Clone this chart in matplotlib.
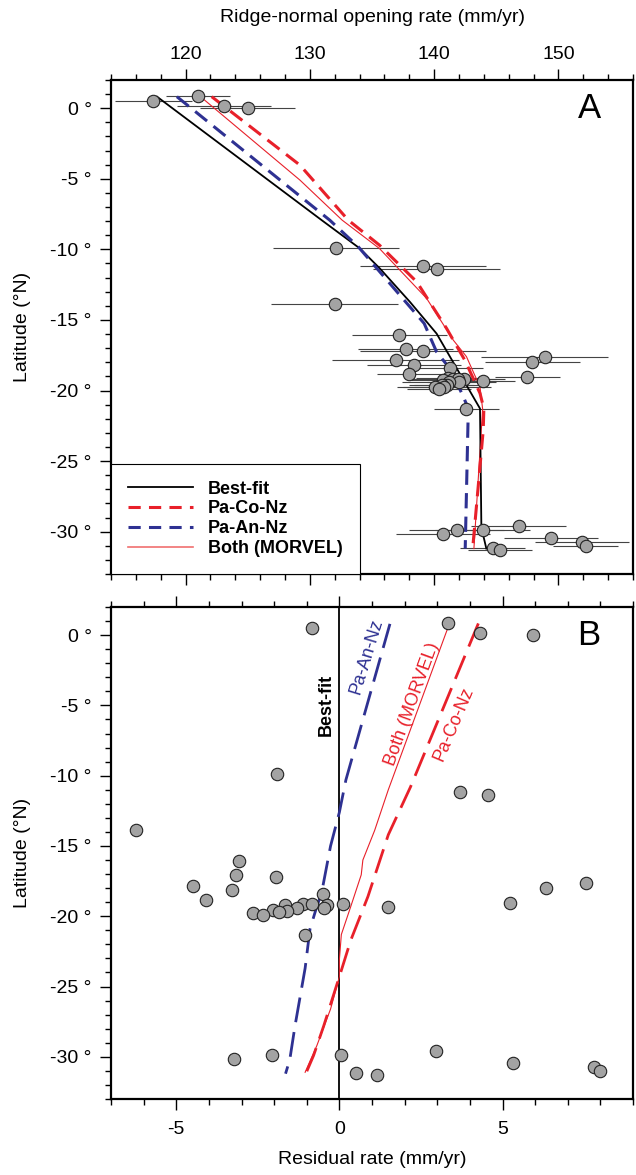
import matplotlib
matplotlib.use("Agg")
import matplotlib.pyplot as plt
from matplotlib.ticker import MultipleLocator, FuncFormatter
from matplotlib.lines import Line2D

plt.rcParams['font.family'] = ['Liberation Sans', 'DejaVu Sans']
plt.rcParams['axes.unicode_minus'] = False

RED = '#e8202a'
BLUE = '#2e3192'
PINK = '#f07070'

# observed spreading rates (same sites in both panels)
lat_obs = [0.5, 0.85, 0.14, 0.0, -9.9, -11.18, -11.39, -13.87, -16.04, -17.03,
           -17.19, -17.85, -17.62, -17.97, -18.16, -18.82, -18.44, -19.06, -19.16, -19.32,
           -19.10, -19.15, -19.17, -19.41, -19.22, -19.43, -19.60, -19.58, -19.72, -19.76,
           -19.88, -21.32, -30.16, -29.90, -29.90, -31.15, -31.27, -29.62, -30.47, -30.75,
           -31.00]
rate_obs = [117.4, 121.0, 123.1, 125.0, 132.1, 139.1, 140.2, 132.0, 137.2, 137.7,
            139.1, 136.9, 148.9, 147.9, 138.4, 138.0, 141.3, 147.5, 142.4, 143.9,
            141.1, 141.5, 141.9, 142.0, 140.7, 141.2, 141.0, 140.6, 140.8, 140.1,
            140.4, 142.6, 140.7, 141.8, 143.9, 144.7, 145.3, 146.8, 149.4, 151.9,
            152.2]
rate_err = [3.1, 2.6, 3.8, 3.8, 5.1, 5.1, 5.1, 5.1, 3.8, 3.8,
            5.1, 5.1, 5.1, 3.8, 3.8, 2.6, 2.6, 2.6, 2.6, 2.6,
            2.6, 2.6, 3.8, 2.6, 2.6, 3.8, 2.6, 2.6, 3.8, 2.6,
            2.6, 2.6, 3.8, 3.8, 3.8, 2.6, 2.6, 3.8, 3.8, 3.8,
            2.6]
resid_obs = [-0.84, 3.32, 4.31, 5.95, -1.92, 3.69, 4.55, -6.23, -3.08, -3.16,
             -1.94, -4.48, 7.57, 6.34, -3.30, -4.08, -0.51, 5.23, 0.11, 1.50,
             -1.13, -0.84, -0.38, -0.48, -1.68, -1.31, -1.61, -2.02, -1.85, -2.65,
             -2.35, -1.06, -3.23, -2.06, 0.06, 0.52, 1.14, 2.96, 5.33, 7.80,
             7.98]

# model predictions, panel A (mm/yr)
bf_lat = [0.82, -7.93, -9.94, -11.36, -13.72, -15.97, -21.28, -29.7, -31.2]
bf_rate = [117.7, 130.95, 134.03, 135.64, 138.05, 140.2, 143.69, 143.8, 144.2]
an_lat = [0.82, -6.04, -7.93, -9.82, -15.25, -17.27, -18.45, -20.34, -21.28, -31.2]
an_rate = [119.3, 128.94, 131.6, 133.9, 139.2, 140.2, 141.27, 142.3, 142.75, 142.5]
co_lat = [0.82, -4.03, -7.93, -9.7, -12.3, -15.6, -17.9, -20.2, -21.28, -22.8, -31.2]
co_rate = [122.1, 129.2, 133.09, 135.6, 138.6, 141.0, 142.5, 143.69, 144.0, 143.95, 143.1]
mv_lat = [0.82, -5.09, -7.93, -9.94, -13.48, -16.44, -17.6, -19.75, -21.3, -31.2]
mv_rate = [121.2, 129.2, 132.6, 135.6, 139.4, 141.55, 142.6, 143.69, 143.9, 143.2]

# model residuals relative to best fit, panel B
an_rlat = [0.8, -10.3, -12.6, -15.0, -18.4, -19.3, -20.9, -23.7, -27.8, -30.2, -31.2]
an_res = [1.55, 0.2, 0.0, -0.27, -0.55, -0.69, -0.9, -1.05, -1.36, -1.52, -1.65]
mv_rlat = [0.8, -11.0, -13.9, -16.0, -17.05, -19.3, -21.3, -23.1, -24.3, -26.6, -29.2, -31.1]
mv_res = [3.37, 1.5, 1.08, 0.72, 0.67, 0.35, 0.06, 0.0, 0.0, -0.27, -0.69, -1.05]
co_rlat = [0.83, -10.8, -14.2, -18.6, -21.7, -24.0, -27.8, -29.9, -31.2]
co_res = [4.26, 2.18, 1.5, 0.875, 0.35, 0.04, -0.48, -0.79, -1.03]

FS = 14

fig = plt.figure(figsize=(6.36, 11.75), dpi=100)
axA = fig.add_axes([111 / 636, 1 - 574 / 1175, 522 / 636, 494 / 1175])
axB = fig.add_axes([111 / 636, 1 - 1099 / 1175, 522 / 636, 492 / 1175])

deg_fmt = FuncFormatter(lambda v, p: f"{int(round(v))} °")

for ax in (axA, axB):
    ax.set_ylim(-33, 2)
    ax.yaxis.set_major_locator(MultipleLocator(5))
    ax.yaxis.set_minor_locator(MultipleLocator(1))
    ax.yaxis.set_major_formatter(deg_fmt)
    for s in ax.spines.values():
        s.set_linewidth(1.6)
    ax.tick_params(which='both', direction='out', width=1.0, labelsize=FS,
                   top=True, bottom=True, right=False, left=True)
    ax.tick_params(which='major', length=8)
    ax.tick_params(which='minor', length=4)
    ax.tick_params(axis='y', pad=6)

# ---- panel A
axA.set_xlim(114, 156)
axA.xaxis.set_major_locator(MultipleLocator(10))
axA.xaxis.set_minor_locator(MultipleLocator(2))
axA.tick_params(axis='x', labeltop=True, labelbottom=False, pad=4)

axA.errorbar(rate_obs, lat_obs, xerr=rate_err, fmt='none', ecolor='#444444',
             elinewidth=0.8, capsize=0, zorder=2)
axA.plot(mv_rate, mv_lat, color=RED, lw=0.8, zorder=3)
axA.plot(bf_rate, bf_lat, color='black', lw=1.3, zorder=3)
axA.plot(an_rate, an_lat, color=BLUE, lw=2.2, dashes=(5, 2.7), zorder=4)
axA.plot(co_rate, co_lat, color=RED, lw=2.2, dashes=(5, 2.7), zorder=4)
axA.scatter(rate_obs, lat_obs, s=80, color='#a3a3a3', edgecolor='#222222',
            linewidth=0.8, zorder=5)
axA.text(152.5, 0, 'A', fontsize=25, ha='center', va='center')

handles = [Line2D([], [], color='black', lw=1.3),
           Line2D([], [], color=RED, lw=2.2, dashes=(4, 2.7)),
           Line2D([], [], color=BLUE, lw=2.2, dashes=(4, 2.7)),
           Line2D([], [], color=PINK, lw=1.2)]
labels = ['Best-fit', 'Pa-Co-Nz', 'Pa-An-Nz', 'Both (MORVEL)']
leg = axA.legend(handles, labels, loc='lower left', bbox_to_anchor=(0, 0),
                 borderaxespad=0, fancybox=False, edgecolor='black', framealpha=1,
                 prop={'weight': 'bold', 'size': 13}, handlelength=3.6,
                 handletextpad=0.8, labelspacing=0.15, borderpad=0.95)
leg.get_frame().set_linewidth(0.8)
leg.set_zorder(6)

# ---- panel B
axB.set_xlim(-7, 9)
axB.xaxis.set_major_locator(MultipleLocator(5))
axB.xaxis.set_minor_locator(MultipleLocator(1))
axB.tick_params(axis='x', labeltop=False, labelbottom=True, pad=8)

axB.axvline(0, color='black', lw=1.3, zorder=3)
axB.plot(mv_res, mv_rlat, color=RED, lw=0.8, zorder=3)
axB.plot(an_res, an_rlat, color=BLUE, lw=2.0, dashes=(9, 3.6), zorder=4)
axB.plot(co_res, co_rlat, color=RED, lw=2.0, dashes=(9, 3.6), zorder=4)
axB.scatter(resid_obs, lat_obs, s=80, color='#a3a3a3', edgecolor='#222222',
            linewidth=0.8, zorder=5)
axB.text(7.65, 0, 'B', fontsize=25, ha='center', va='center')

axB.text(-0.39, -5.0, 'Best-fit', rotation=90, fontsize=13, fontweight='bold',
         ha='center', va='center')
axB.text(0.82, -1.5, 'Pa-An-Nz', rotation=73, fontsize=13, color=BLUE,
         ha='center', va='center')
axB.text(2.23, -4.9, 'Both (MORVEL)', rotation=70, fontsize=13, color=RED,
         ha='center', va='center')
axB.text(3.5, -6.3, 'Pa-Co-Nz', rotation=67, fontsize=13, color=RED,
         ha='center', va='center')

# axis titles
fig.text(372 / 636, 1 - 18 / 1175, 'Ridge-normal opening rate (mm/yr)', fontsize=FS,
         ha='center', va='center')
fig.text(372 / 636, 1 - 1160 / 1175, 'Residual rate (mm/yr)', fontsize=FS,
         ha='center', va='center')
fig.text(23 / 636, 1 - 327 / 1175, 'Latitude (°N)', fontsize=FS, rotation=90,
         ha='center', va='center')
fig.text(23 / 636, 1 - 853 / 1175, 'Latitude (°N)', fontsize=FS, rotation=90,
         ha='center', va='center')

fig.savefig('out.png', dpi=100)
